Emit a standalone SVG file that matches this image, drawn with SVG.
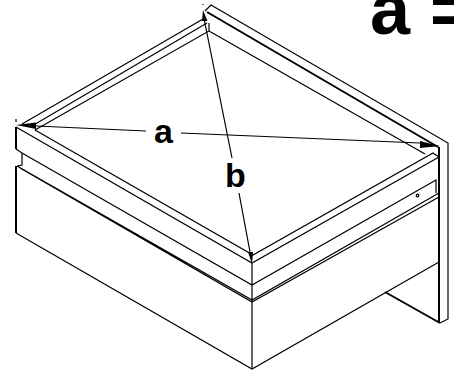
<svg xmlns="http://www.w3.org/2000/svg" width="454" height="372" viewBox="0 0 454 372">
<style>
.l{fill:none;stroke:#000;stroke-width:1.200}
.t{fill:none;stroke:#000;stroke-width:2}
.d{fill:none;stroke:#000;stroke-width:1.200}
.h{fill:#000;stroke:none}
text{font-family:"Liberation Sans",Arial,sans-serif;font-weight:bold;fill:#000}
</style>
<rect width="454" height="372" fill="#fff"/>
<g id="cabinet">
<path class="t" d="M16 127V149M16 166V233M207 12L438 147M439 147V323M385 292L440 323"/>
<path class="l" d="M16 127L252 263L439 157M35 130L253 255L433 153L439 157M16 149L22 153V165L17 166M22 153L252 285L436 180V193M17 166L252 300L439 193M20 168L252 302L439 197M16 233L252 369L439 262M252 263V369"/>
<path class="l" d="M22 124L203 19M32 126L207 23M35 130L209 31V23M209 31L425 154M205 11L211 5L448 143V319L440 323M16 119V122M203 4V5"/>
<circle class="l" cx="417.500" cy="195.500" r="1.300"/>
</g>
<g id="dimensions">
<path class="d" d="M36 126L146 131M181 133L420 143M204.500 21L232 158M239 193L250 252"/>
<path class="h" d="M16 125L36 122.500L36 129ZM440 146L420 141L420 148ZM203 10L207.500 21L202 21ZM252 264L248 252L253 252Z"/>
</g>
<text x="370" y="34" font-size="72">a =</text>
<text x="154" y="143" font-size="34">a</text>
<text x="225" y="187" font-size="34">b</text>
</svg>
